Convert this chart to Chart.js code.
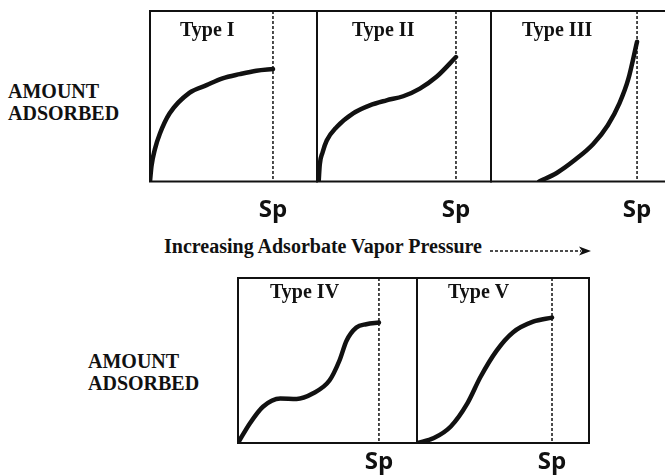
<!DOCTYPE html>
<html>
<head>
<meta charset="utf-8">
<title>Adsorption Isotherms</title>
<script src="https://cdn.jsdelivr.net/npm/chart.js@4.4.1/dist/chart.umd.min.js"></script>
<style>
  html, body { margin: 0; padding: 0; background: #fff; }
  #page { position: relative; width: 665px; height: 476px; overflow: hidden; }
  .panel { position: absolute; }
  .label {
    position: absolute;
    font: bold 20px "Liberation Serif", "Times New Roman", serif;
    color: #111;
    white-space: nowrap;
    line-height: 22px;
  }
  #amount-top { left: 8px; top: 80px; }
  #amount-bottom { left: 88px; top: 350px; }
  #pressure-label { right: 183px; top: 235px; }
  #pressure-arrow { position: absolute; left: 488px; top: 244px; }
</style>
</head>
<body>
<div id="page">
  <div class="label" id="amount-top">AMOUNT<br>ADSORBED</div>
  <div class="label" id="amount-bottom">AMOUNT<br>ADSORBED</div>
  <div class="label" id="pressure-label">Increasing Adsorbate Vapor Pressure</div>
  <svg id="pressure-arrow" width="106" height="14">
    <line x1="2" y1="7" x2="93" y2="7" stroke="#111" stroke-width="1.5" stroke-dasharray="3 2"></line>
    <polygon points="91,2.5 103,7 91,11.5 94,7" fill="#111"></polygon>
  </svg>

  <div class="panel" id="panel-1"><canvas></canvas></div>
  <div class="panel" id="panel-2"><canvas></canvas></div>
  <div class="panel" id="panel-3"><canvas></canvas></div>
  <div class="panel" id="panel-4"><canvas></canvas></div>
  <div class="panel" id="panel-5"><canvas></canvas></div>
</div>

<script>
'use strict';

// ======= data =======

// relative pressure p/p0 (1 = saturation, "Sp") and amount adsorbed (0..1 of the box)
var typeIPressure = [0, 0.012, 0.04, 0.08, 0.16, 0.32, 0.46, 0.59, 0.73, 0.865, 1.0];
var typeIAmount = [0, 0.09, 0.19, 0.28, 0.40, 0.52, 0.565, 0.605, 0.63, 0.65, 0.66];

var typeIIPressure = [0.012, 0.02, 0.04, 0.07, 0.142, 0.26, 0.38, 0.50, 0.62, 0.74, 0.86, 1.0];
var typeIIAmount = [0, 0.10, 0.17, 0.24, 0.32, 0.40, 0.447, 0.476, 0.50, 0.545, 0.614, 0.73];

var typeIIIPressure = [0.33, 0.45, 0.58, 0.70, 0.80, 0.88, 0.94, 1.0];
var typeIIIAmount = [0, 0.05, 0.13, 0.22, 0.33, 0.46, 0.60, 0.82];

var typeIVPressure = [0, 0.085, 0.177, 0.30, 0.416, 0.53, 0.65, 0.72, 0.77, 0.84, 0.91, 1.0];
var typeIVAmount = [0, 0.12, 0.22, 0.27, 0.267, 0.30, 0.38, 0.50, 0.62, 0.70, 0.72, 0.73];

var typeVPressure = [0, 0.125, 0.25, 0.373, 0.47, 0.59, 0.71, 0.86, 1.0];
var typeVAmount = [0, 0.03, 0.10, 0.24, 0.40, 0.56, 0.67, 0.735, 0.76];

var panelTitles = ['Type I', 'Type II', 'Type III', 'Type IV', 'Type V'];
var spLabel = 'Sp';

// ======= layout =======

var ink = '#111';
var pad = 4;

// box position on the page, how far the pressure axis runs past Sp, text offsets
var panels = [
  { id: 'panel-1', pressure: typeIPressure, amount: typeIAmount, left: 150, top: 10.5, width: 167, height: 170.5, pMax: 1.358, titleX: 30, titleY: 25, spY: 35, below: 45 },
  { id: 'panel-2', pressure: typeIIPressure, amount: typeIIAmount, left: 317, top: 10.5, width: 174, height: 170.5, pMax: 1.252, titleX: 35, titleY: 25, spY: 35, below: 45 },
  { id: 'panel-3', pressure: typeIIIPressure, amount: typeIIIAmount, left: 491, top: 10.5, width: 190, height: 170.5, pMax: 1.301, titleX: 31, titleY: 25, spY: 35, below: 45 },
  { id: 'panel-4', pressure: typeIVPressure, amount: typeIVAmount, left: 238, top: 278, width: 179, height: 165, pMax: 1.270, titleX: 32, titleY: 20, spY: 26, below: 33 },
  { id: 'panel-5', pressure: typeVPressure, amount: typeVAmount, left: 417, top: 278, width: 172, height: 165, pMax: 1.274, titleX: 31, titleY: 20, spY: 26, below: 33 }
];

// ======= plugin: box, Sp marker and labels =======

var isothermFrame = {
  id: 'isothermFrame',
  beforeDatasetsDraw: function (chart, args, opts) {
    var ctx = chart.ctx;
    var area = chart.chartArea;
    var xSp = chart.scales.x.getPixelForValue(1);

    ctx.save();
    ctx.strokeStyle = ink;
    ctx.fillStyle = ink;

    // dashed line at saturation pressure
    ctx.lineWidth = 1.5;
    ctx.setLineDash([3, 2]);
    ctx.beginPath();
    ctx.moveTo(xSp, area.top);
    ctx.lineTo(xSp, area.bottom);
    ctx.stroke();
    ctx.setLineDash([]);

    // box
    ctx.lineWidth = 2;
    ctx.strokeRect(area.left, area.top, area.right - area.left, area.bottom - area.top);

    ctx.textBaseline = 'alphabetic';
    ctx.textAlign = 'left';
    ctx.font = 'bold 20px "Liberation Serif", serif';
    ctx.fillText(opts.title, area.left + opts.titleX, area.top + opts.titleY);

    ctx.textAlign = 'center';
    ctx.font = 'bold 24px "Open Sans", sans-serif';
    ctx.fillText(spLabel, xSp, area.bottom + opts.spY);
    ctx.restore();
  }
};

// ======= charts =======

function toPoints(xs, ys) {
  var pts = [];
  for (var i = 0; i < xs.length; i++) {
    pts.push({ x: xs[i], y: ys[i] });
  }
  return pts;
}

function drawPanel(p, index) {
  var box = document.getElementById(p.id);
  box.style.left = (p.left - pad) + 'px';
  box.style.top = (p.top - pad) + 'px';
  box.style.width = (p.width + pad * 2) + 'px';
  box.style.height = (p.height + pad + p.below) + 'px';

  new Chart(box.querySelector('canvas'), {
    type: 'line',
    data: {
      datasets: [{
        data: toPoints(p.pressure, p.amount),
        borderColor: ink,
        borderWidth: 4.5,
        borderCapStyle: 'round',
        cubicInterpolationMode: 'monotone',
        pointRadius: 0,
        fill: false
      }]
    },
    options: {
      responsive: true,
      maintainAspectRatio: false,
      animation: false,
      events: [],
      layout: { padding: { left: pad, right: pad, top: pad, bottom: p.below } },
      scales: {
        x: { type: 'linear', min: 0, max: p.pMax, display: false },
        y: { min: 0, max: 1, display: false }
      },
      plugins: {
        legend: { display: false },
        tooltip: { enabled: false },
        isothermFrame: { title: panelTitles[index], titleX: p.titleX, titleY: p.titleY, spY: p.spY }
      }
    },
    plugins: [isothermFrame]
  });
}

panels.forEach(drawPanel);
</script>
</body>
</html>
